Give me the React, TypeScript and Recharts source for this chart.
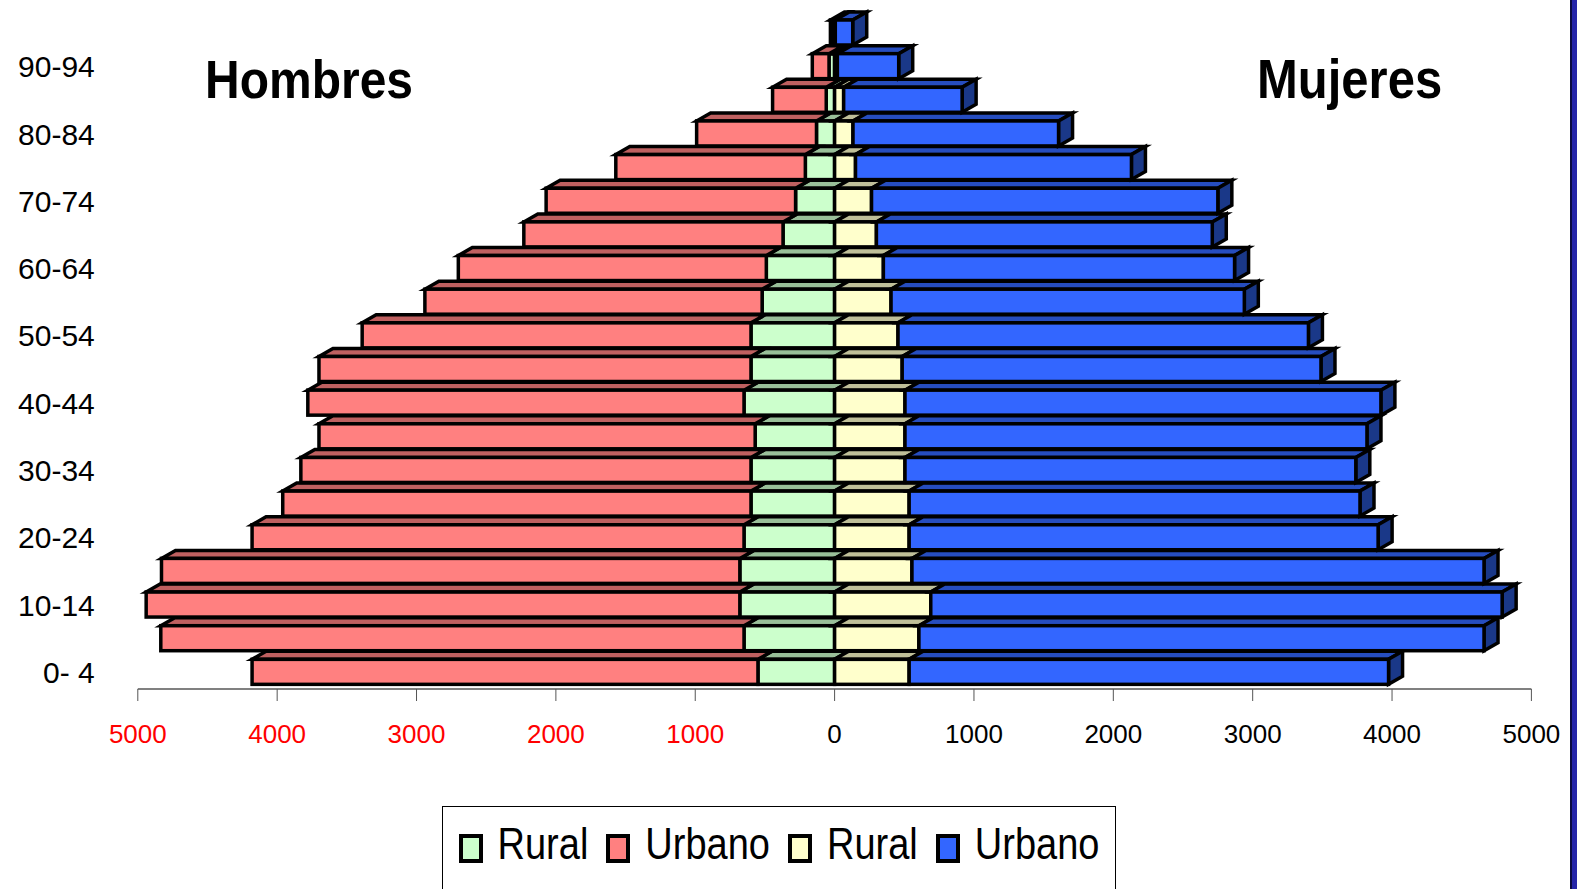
import { BarChart, Bar, XAxis, YAxis, Legend } from 'recharts';

// grupos de edad, de abajo hacia arriba
const ageGroups = [
  '0- 4', '5- 9', '10-14', '15-19', '20-24', '25-29', '30-34', '35-39', '40-44', '45-49',
  '50-54', '55-59', '60-64', '65-69', '70-74', '75-79', '80-84', '85-89', '90-94', '95+',
];

const hombresRural = [550, 650, 680, 680, 650, 600, 600, 570, 650, 600, 600, 520, 490, 370, 280, 210, 130, 60, 40, 5];
const hombresUrbano = [3630, 4185, 4260, 4150, 3530, 3360, 3230, 3130, 3130, 3100, 2790, 2420, 2210, 1860, 1790, 1360, 860, 385, 120, 25];
const mujeresRural = [535, 605, 690, 555, 535, 535, 505, 505, 505, 485, 455, 405, 350, 300, 265, 150, 132, 65, 20, 5];
const mujeresUrbano = [3440, 4055, 4100, 4105, 3365, 3235, 3235, 3315, 3415, 3005, 2945, 2535, 2520, 2410, 2485, 1980, 1475, 850, 440, 125];

const xTicks = [-5000, -4000, -3000, -2000, -1000, 0, 1000, 2000, 3000, 4000, 5000];
const seriesNames = ['Rural', 'Urbano', 'Rural', 'Urbano'];

const FONT = '"Liberation Sans", Arial, sans-serif';
const COLORS = ['#CCFFCC', '#FF8080', '#FFFFCC', '#3366FF'];
const TOPS = ['#99BF99', '#BF6060', '#BFBF99', '#264DBF'];
const SIDE = '#1A3888';
const DX = 14;
const DY = 8;

const data = ageGroups.map((age, i) => ({
  age,
  hR: -hombresRural[i],
  hU: -hombresUrbano[i],
  mR: mujeresRural[i],
  mU: mujeresUrbano[i],
}));

// barra con efecto 3D (cara frontal + tapa, y lado derecho si es la ultima)
function Box3D(props: any) {
  const { x, y, width, height, fill, top, side } = props;
  if (width == null || height == null) return null;
  const x0 = width < 0 ? x + width : x;
  const w = Math.abs(width);
  const h = height;
  const x1 = x0 + w;
  return (
    <g stroke="#000" strokeWidth={3.5} strokeLinejoin="miter">
      <polygon
        points={`${x0},${y} ${x0 + DX},${y - DY} ${x1 + DX},${y - DY} ${x1},${y}`}
        fill={top}
      />
      {side && (
        <polygon
          points={`${x1},${y} ${x1 + DX},${y - DY} ${x1 + DX},${y + h - DY} ${x1},${y + h}`}
          fill={side}
        />
      )}
      <rect x={x0} y={y} width={w} height={h} fill={fill} />
    </g>
  );
}

function AgeTick(props: any) {
  const { x, y, payload } = props;
  const idx = ageGroups.indexOf(payload.value);
  if (idx % 2 !== 0) return null;
  return (
    <text x={x} y={y} dy="0.36em" textAnchor="end" fontFamily={FONT} fontSize={30} fill="#000">
      {payload.value}
    </text>
  );
}

function ValueTick(props: any) {
  const { x, y, payload } = props;
  const v = payload.value as number;
  return (
    <text
      x={x}
      y={y + 40}
      textAnchor="middle"
      fontFamily={FONT}
      fontSize={26}
      fill={v < 0 ? '#FF0000' : '#000'}
    >
      {Math.abs(v)}
    </text>
  );
}

function LegendBox() {
  return (
    <div
      style={{
        boxSizing: 'border-box',
        width: 674,
        height: 100,
        border: '1.5px solid #000',
        background: '#fff',
        display: 'flex',
        justifyContent: 'center',
        alignItems: 'flex-start',
        paddingTop: 17,
        fontFamily: FONT,
      }}
    >
      {seriesNames.map((name, i) => (
        <div key={i} style={{ display: 'flex', alignItems: 'center', marginRight: i < 3 ? 18 : 0 }}>
          <span
            style={{
              display: 'inline-block',
              boxSizing: 'border-box',
              width: 24,
              height: 29,
              marginTop: 10,
              background: COLORS[i],
              border: '4.5px solid #000',
              marginRight: 15,
            }}
          />
          <span
            style={{
              display: 'inline-block',
              fontSize: 38,
              lineHeight: 1,
              color: '#000',
              transform: 'scaleY(1.15)',
            }}
          >
            {name}
          </span>
        </div>
      ))}
    </div>
  );
}

export default function App() {
  const keys = ['hR', 'hU', 'mR', 'mU'];
  return (
    <div style={{ position: 'absolute', left: 0, top: 0, width: 1577, height: 889, overflow: 'hidden', background: '#fff' }}>
      <BarChart
        width={1577}
        height={889}
        data={data}
        layout="vertical"
        stackOffset="sign"
        barSize={25}
        margin={{ top: 16, right: 45.6, bottom: 140, left: 0 }}
      >
        <XAxis
          type="number"
          domain={[-5000, 5000]}
          ticks={xTicks}
          interval={0}
          height={60}
          axisLine={{ stroke: '#808080', strokeWidth: 2 }}
          tickLine={{ stroke: '#555' }}
          tickSize={12}
          tick={<ValueTick />}
        />
        <YAxis
          type="category"
          dataKey="age"
          reversed
          interval={0}
          width={137.8}
          axisLine={false}
          tickLine={false}
          tickSize={0}
          tickMargin={43}
          tick={<AgeTick />}
        />
        <Legend
          layout="horizontal"
          align="center"
          verticalAlign="middle"
          content={() => <LegendBox />}
          wrapperStyle={{ position: 'absolute', left: 442, top: 806, width: 674, height: 100 }}
        />
        {keys.map((k, i) => (
          <Bar
            key={k}
            dataKey={k}
            name={seriesNames[i]}
            stackId="pop"
            fill={COLORS[i]}
            isAnimationActive={false}
            shape={(p: any) => <Box3D {...p} top={TOPS[i]} side={i === 3 ? SIDE : undefined} />}
          />
        ))}
        <text transform="translate(205,97.5) scale(1,1.12)" fontFamily={FONT} fontWeight="bold" fontSize={48} fill="#000">
          Hombres
        </text>
        <text transform="translate(1257,97.5) scale(1,1.12)" fontFamily={FONT} fontWeight="bold" fontSize={49} fill="#000">
          Mujeres
        </text>
      </BarChart>
      <div style={{ position: 'absolute', left: 1570, top: 0, width: 7, height: 889, background: '#2424A8', borderLeft: '2px solid #0A0A40', boxSizing: 'border-box' }} />
    </div>
  );
}
